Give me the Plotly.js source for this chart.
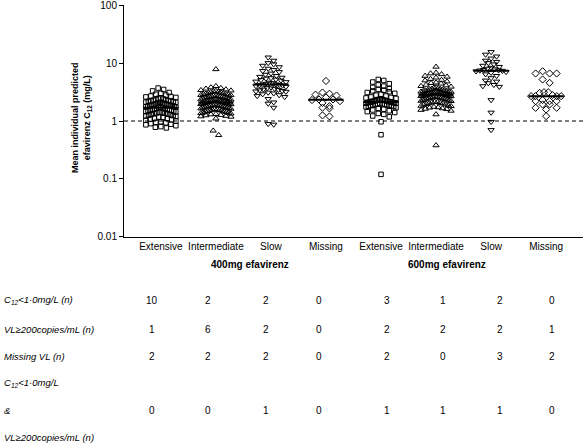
<!DOCTYPE html>
<html>
<head>
<meta charset="utf-8">
<script src="https://cdn.plot.ly/plotly-3.0.1.min.js"></script>
<style>html,body{margin:0;padding:0;background:#fff;}#chart{width:583px;height:444px;}</style>
</head>
<body>
<div id="chart"></div>
<script>
// ---- data ----
var categories = ["Extensive", "Intermediate", "Slow", "Missing", "Extensive", "Intermediate", "Slow", "Missing"];
var doseLabels = ["400mg efavirenz", "600mg efavirenz"];

var ext400 = [0.76,0.78,0.8,0.83,0.86,0.88,0.9,0.93,0.95,0.97,
  1.0,1.03,1.05,1.08,1.1,1.12,1.15,1.17,1.2,1.22,1.24,1.26,1.28,1.3,
  1.32,1.34,1.36,1.38,1.4,1.42,1.44,1.46,1.48,1.5,1.52,1.54,1.56,1.58,1.6,1.62,1.64,1.66,1.68,1.7,
  1.72,1.74,1.76,1.78,1.8,1.82,1.84,1.86,1.88,1.9,1.92,1.94,1.96,1.98,2.0,2.02,2.05,2.08,2.1,2.12,2.15,2.18,2.2,2.22,
  2.25,2.28,2.3,2.35,2.4,2.45,2.5,2.55,2.6,2.65,2.7,2.8,2.9,3.0,3.1,3.3,3.5,3.7];
var int400 = [0.57,0.68,1.1,1.18,1.2,1.22,1.25,1.27,1.3,1.32,1.34,1.36,1.38,1.4,1.42,1.44,1.46,1.48,1.5,
  1.52,1.54,1.56,1.58,1.6,1.62,1.64,1.66,1.68,1.7,1.72,1.74,1.76,1.78,1.8,1.82,1.84,1.86,1.88,1.9,1.92,1.94,1.96,1.98,2.0,2.02,2.04,2.06,
  2.08,2.1,2.12,2.14,2.16,2.18,2.2,2.22,2.24,2.26,2.28,2.3,2.33,2.36,2.4,2.44,2.48,2.52,2.56,2.6,
  2.65,2.7,2.75,2.8,2.85,2.9,2.95,3.0,3.1,3.2,3.3,3.4,3.5,3.6,3.7,3.8,4.0,7.8,
  2.62,2.68,2.72,2.78,3.05,3.15,3.25,3.35,2.58,2.92];
var slow400 = [0.87,0.89,1.7,2.0,2.1,2.4,2.6,2.7,2.8,2.9,3.0,3.1,3.2,3.3,3.4,3.5,3.6,3.7,3.8,3.9,4.0,4.1,4.15,4.2,4.25,
  4.3,4.4,4.5,4.6,4.7,4.8,5.0,5.2,5.4,5.6,5.8,6.0,6.3,6.6,7.0,7.3,7.6,8.0,8.5,9.0,9.5,10.0,11.0,12.5,
  3.25,3.45,5.1,5.5];
var miss400 = [4.9,3.1,2.95,2.85,2.75,2.55,2.35,2.35,2.3,2.2,2.05,1.8,1.7,1.65,1.25,1.2];
var ext600 = [0.12,0.58,0.97,1.18,1.22,1.3,1.35,1.4,1.45,1.5,1.55,1.6,1.65,1.7,1.75,1.78,1.8,1.83,1.86,1.88,1.9,1.92,1.95,1.97,2.0,2.02,2.05,2.08,2.1,2.12,2.15,
  2.18,2.2,2.23,2.26,2.3,2.33,2.36,2.4,2.45,2.5,2.55,2.6,2.7,2.8,2.9,3.0,3.1,3.2,3.3,3.4,3.5,3.6,3.8,4.0,4.2,4.4,4.7,5.0,5.2,
  1.85,1.93,2.03,2.07,2.13,2.17,2.22,2.28];
var int600 = [0.38,1.3,1.5,1.55,1.6,1.65,1.7,1.75,1.8,1.85,1.9,1.95,2.0,2.05,2.1,2.15,2.2,2.25,2.3,2.35,2.4,2.44,2.48,2.52,2.56,2.6,2.63,2.66,2.69,2.72,2.75,2.78,2.81,2.84,
  2.87,2.9,2.93,2.96,3.0,3.04,3.08,3.12,3.16,3.2,3.25,3.3,3.35,3.4,3.45,3.5,3.6,3.7,3.8,3.9,4.0,4.2,4.4,4.6,4.8,5.0,5.3,5.6,6.0,6.4,6.8,8.6,
  1.62,1.72,1.82,1.92,2.02,2.12,2.22,2.32,2.42,2.5,2.58,2.68,2.76,
  2.95,3.02,3.1,3.18,3.28,3.38,3.55,3.75,4.1,4.5,5.1,5.8,6.6];
var slow600 = [0.7,0.97,1.4,2.3,3.9,4.0,4.2,4.5,4.8,5.0,5.5,6.0,6.4,6.8,7.0,7.2,7.35,
  7.5,7.6,7.8,8.0,8.3,8.6,9.0,9.5,10.0,10.5,11.0,12.0,13.0,14.0,15.5,7.45];
var miss600 = [7.2,6.6,6.6,6.6,5.2,4.55,3.14,3.14,3.05,2.68,2.68,2.8,2.68,2.68,2.2,2.3,2.2,2.2,1.93,1.93,1.69,1.69,1.58,1.21];

var rowLabels = ["C<sub>12</sub>&lt;1·0mg/L (n)", "VL≥200copies/mL (n)", "Missing VL (n)", "C<sub>12</sub>&lt;1·0mg/L", "&", "VL≥200copies/mL (n)"];
var rowC12 = [10, 2, 2, 0, 3, 1, 2, 0];
var rowVL = [1, 6, 2, 0, 2, 2, 2, 1];
var rowMissVL = [2, 2, 2, 0, 2, 0, 3, 2];
var rowBoth = [0, 0, 1, 0, 1, 1, 1, 0];

var yTickVals = [0.01, 0.1, 1, 10, 100];
var yTickText = ["0.01", "0.1", "1", "10", "100"];

// ---- layout helpers ----
var groups = [ext400, int400, slow400, miss400, ext600, int600, slow600, miss600];
var symbols = ["square-open", "triangle-up-open", "triangle-down-open", "diamond-open",
               "square-open", "triangle-up-open", "triangle-down-open", "diamond-open"];
var sizes = [4.5, 5.5, 5.5, 5.5, 4.5, 5.5, 5.5, 5.5];
var PX_UNIT = 55, PX_DEC = 58;
var L = 124, T = 5, PW = 459, PH = 232;

function swarm(vals, idx, stepPx, maxHalf, binPx) {
  var pts = vals.map(function (v) { return { v: v, py: -PX_DEC * Math.log10(v) }; })
                .sort(function (a, b) { return a.py - b.py; });
  var xs = [], ys = [];
  var i = 0;
  while (i < pts.length) {
    var j = i;
    while (j < pts.length && pts[j].py - pts[i].py < binPx) j++;
    var n = j - i;
    var step = n > 1 ? Math.min(stepPx, 2 * maxHalf / (n - 1)) : 0;
    var slots = [];
    for (var k = 0; k < n; k++) slots.push((k - (n - 1) / 2) * step);
    var order = slots.slice().sort(function (a, b) { return Math.abs(a) - Math.abs(b) || a - b; });
    for (var k2 = 0; k2 < n; k2++) {
      xs.push(idx + order[k2] / PX_UNIT);
      ys.push(pts[i + k2].v);
    }
    i = j;
  }
  return { x: xs, y: ys };
}
function median(a) {
  var s = a.slice().sort(function (p, q) { return p - q; });
  var m = Math.floor(s.length / 2);
  return s.length % 2 ? s[m] : (s[m - 1] + s[m]) / 2;
}

var traces = [];
var shapes = [];
groups.forEach(function (g, idx) {
  var sparse = g.length < 30;
  var sw = swarm(g, idx, sparse ? 7 : 5.5, 15, sparse ? 4 : 4.5);
  traces.push({
    x: sw.x, y: sw.y, type: "scatter", mode: "markers", hoverinfo: "y",
    marker: { symbol: symbols[idx], size: sizes[idx], color: "#000", line: { color: "#000", width: 1 } },
    showlegend: false
  });
  var md = median(g);
  shapes.push({ type: "line", xref: "x", yref: "y", x0: idx - 0.32, x1: idx + 0.32, y0: md, y1: md,
                line: { color: "#000", width: 2 } });
});
shapes.push({ type: "line", xref: "paper", yref: "y", x0: 0, x1: 1, y0: 1, y1: 1,
              line: { color: "#000", width: 1, dash: "4px,3px" } });

function px2x(px) { return (px - L) / PW; }
function py2y(py) { return (T + PH - py) / PH; }

var FONT = "Liberation Sans, Arial, sans-serif";
var annotations = [];
annotations.push({ xref: "paper", yref: "paper", x: px2x(82), y: py2y(118), textangle: -90,
  text: "<b>Mean individual predicted<br>efavirenz C<sub>12</sub> (mg/L)</b>", showarrow: false,
  xanchor: "center", yanchor: "middle", font: { family: FONT, size: 9, color: "#000" } });
var doseX = [250, 447];
doseLabels.forEach(function (t, i) {
  annotations.push({ xref: "paper", yref: "paper", x: px2x(doseX[i]), y: py2y(264), text: "<b>" + t + "</b>",
    showarrow: false, xanchor: "center", yanchor: "middle", font: { family: FONT, size: 10, color: "#000" } });
});
var rowY = [300, 329, 356, 383, 410, 437];
rowLabels.forEach(function (t, i) {
  annotations.push({ xref: "paper", yref: "paper", x: px2x(2), y: py2y(rowY[i]), text: "<i>" + t + "</i>",
    showarrow: false, xanchor: "left", yanchor: "middle", font: { family: FONT, size: 9.5, color: "#000" } });
});
var colX = [152, 208, 266, 319, 387, 443, 500, 552];
var rowsData = [[rowC12, 300], [rowVL, 329], [rowMissVL, 356], [rowBoth, 410]];
rowsData.forEach(function (r) {
  r[0].forEach(function (v, c) {
    annotations.push({ xref: "paper", yref: "paper", x: px2x(colX[c]), y: py2y(r[1]), text: String(v),
      showarrow: false, xanchor: "center", yanchor: "middle", font: { family: FONT, size: 10, color: "#000" } });
  });
});

var layout = {
  width: 583, height: 444,
  margin: { l: L, r: 583 - L - PW, t: T, b: 444 - T - PH, pad: 0 },
  paper_bgcolor: "#fff", plot_bgcolor: "#fff",
  font: { family: FONT, size: 10, color: "#000" },
  showlegend: false,
  xaxis: {
    range: [-0.67, 7.67], tickmode: "array", tickvals: [0, 1, 2, 3, 4, 5, 6, 7], ticktext: categories,
    showline: true, linecolor: "#000", linewidth: 1, ticks: "", showgrid: false, zeroline: false,
    tickfont: { family: FONT, size: 10, color: "#000" }, fixedrange: true
  },
  yaxis: {
    type: "log", range: [-2.0005, 2.0005], tickmode: "array", tickvals: yTickVals,
    ticktext: yTickText, ticklabeloverflow: "allow",
    showline: true, linecolor: "#000", linewidth: 1, ticks: "outside", ticklen: 4, tickcolor: "#000",
    showgrid: false, zeroline: false, tickfont: { family: FONT, size: 10, color: "#000" }, fixedrange: true
  },
  shapes: shapes,
  annotations: annotations
};

Plotly.newPlot("chart", traces, layout, { displayModeBar: false, staticPlot: true });
</script>
</body>
</html>
